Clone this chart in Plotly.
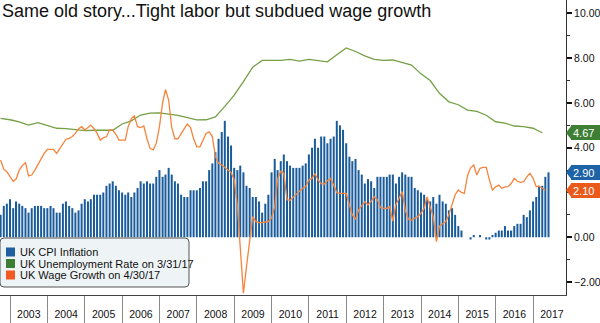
import pandas as pd
import plotly.graph_objects as go

# ---------------- data ----------------
cpi_start = "2002-09-30"          # monthly, month-end
cpi = [
    1.0, 1.4, 1.5, 1.7,
    1.3, 1.6, 1.5, 1.4, 1.3, 1.1, 1.3, 1.4, 1.4, 1.4, 1.3, 1.3,
    1.4, 1.3, 1.1, 1.1, 1.5, 1.6, 1.4, 1.3, 1.1, 1.2, 1.5, 1.7,
    1.6, 1.7, 1.9, 1.9, 1.9, 2.0, 2.3, 2.4, 2.5, 2.3, 2.1, 2.0,
    1.9, 2.0, 1.8, 2.0, 2.2, 2.5, 2.4, 2.5, 2.4, 2.4, 2.7, 3.0,
    2.7, 2.8, 3.1, 2.8, 2.5, 2.4, 1.9, 1.8, 1.8, 2.1, 2.1, 2.1,
    2.2, 2.5, 2.5, 3.0, 3.3, 3.8, 4.4, 4.7, 5.2, 4.5, 4.1, 3.1,
    3.0, 3.2, 2.9, 2.3, 2.2, 1.8, 1.8, 1.6, 1.1, 1.5, 1.9, 2.9,
    3.5, 3.0, 3.4, 3.7, 3.4, 3.2, 3.1, 3.1, 3.1, 3.2, 3.3, 3.7,
    4.0, 4.4, 4.0, 4.5, 4.5, 4.2, 4.4, 4.5, 5.2, 5.0, 4.8, 4.2,
    3.6, 3.4, 3.5, 3.0, 2.8, 2.4, 2.6, 2.5, 2.2, 2.7, 2.7, 2.7,
    2.7, 2.8, 2.8, 2.4, 2.7, 2.9, 2.8, 2.7, 2.7, 2.2, 2.1, 2.0,
    1.9, 1.7, 1.6, 1.8, 1.5, 1.9, 1.6, 1.5, 1.2, 1.3, 1.0, 0.5,
    0.3, 0.0, 0.0, -0.1, 0.1, 0.0, 0.1, 0.0, -0.1, -0.1, 0.1, 0.2,
    0.3, 0.3, 0.5, 0.3, 0.3, 0.5, 0.6, 0.6, 1.0, 0.9, 1.2, 1.6,
    1.8, 2.3, 2.3, 2.7, 2.9,
]

unemp_start = "2002-09-30"        # quarterly, quarter-end
unemployment = [
    5.31, 5.25,
    5.15, 5.01, 5.12, 5.00,
    4.87, 4.85, 4.80, 4.76,
    4.78, 4.78, 4.78, 5.06,
    5.20, 5.46, 5.55, 5.56,
    5.52, 5.45, 5.35, 5.24,
    5.25, 5.38, 5.85, 6.35,
    6.95, 7.60, 7.90, 7.90,
    7.90, 7.95, 7.87, 7.95,
    7.90, 7.84, 8.15, 8.46,
    8.30, 8.10, 7.95, 7.90,
    7.92, 7.82, 7.69, 7.30,
    7.00, 6.43, 6.05, 5.92,
    5.68, 5.62, 5.45, 5.16,
    5.10, 4.97, 4.94, 4.87,
    4.67,
]

wage_start = "2002-09-30"         # monthly, month-end
wage = [
    3.45, 3.04, 2.93, 2.70,
    2.50, 2.60, 3.00, 3.20, 3.33, 2.74, 2.78, 3.00, 3.25, 3.55, 3.75, 3.93,
    3.93, 3.93, 3.75, 3.95, 4.20, 4.38, 4.42, 4.50, 4.64, 4.85, 4.94, 4.79,
    4.90, 5.01, 4.85, 4.65, 4.34, 4.45, 4.49, 4.80, 4.79, 4.60, 4.34, 4.34,
    4.34, 4.94, 5.30, 5.42, 4.94, 4.90, 4.97, 4.40, 3.97, 3.90, 4.20, 4.94,
    6.00, 6.60, 6.13, 4.90, 4.40, 4.40, 4.60, 4.85, 5.06, 4.90, 4.40, 4.04,
    4.04, 4.30, 4.64, 4.71, 4.50, 3.60, 3.30, 3.23, 3.10, 3.00, 2.90, 2.56,
    1.40, -0.30, -2.50, -1.31, -0.12, 0.92, 0.70, 0.65, 0.66, 0.68, 0.70, 0.85,
    1.37, 2.60, 2.95, 2.86, 1.68, 1.65, 1.80, 1.95, 2.06, 2.19, 2.26, 2.56,
    2.63, 2.84, 2.56, 2.40, 2.38, 2.53, 2.63, 2.33, 1.99, 1.96, 1.96, 1.96,
    1.44, 1.00, 0.80, 1.22, 1.40, 1.59, 1.44, 1.60, 1.81, 1.67, 1.33, 1.29,
    1.29, 1.37, 0.72, 1.47, 1.74, 2.04, 1.20, 0.80, 0.77, 0.85, 0.92, 1.07,
    1.30, 1.80, 1.30, 0.92, -0.20, 0.50, 0.60, 0.70, 1.00, 1.50, 1.90, 2.11,
    2.00, 1.96, 2.75, 3.10, 3.23, 2.78, 3.08, 3.12, 3.12, 2.56, 2.11, 2.25,
    2.33, 2.19, 2.25, 2.26, 2.40, 2.63, 2.50, 2.45, 2.48, 2.70, 2.86, 2.63,
    2.26, 2.28, 2.20, 2.10,
]

series_names = ["UK CPI Inflation", "UK Unemployment Rate on 3/31/17", "UK Wage Growth on 4/30/17"]
title_text = "Same old story...Tight labor but subdued wage growth"
y_tick_values = [-2, 0, 4, 6, 8, 10]
x_range = ["2002-09-24", "2017-11-18"]
y_range = [-2.58, 10.6]

# ---------------- styling ----------------
FONT = "Tahoma, 'Liberation Sans', Arial, sans-serif"
BAR_BLUE = "#1a5c9b"
LINE_GREEN = "#74a046"
LINE_ORANGE = "#f7843c"
TAG_BLUE = "#1d63a6"
TAG_GREEN = "#3f7f35"
TAG_ORANGE = "#e95a1c"
SW_COLORS = ["#1f5fa0", "#3e7e34", "#f05a22"]

W, H = 600, 323
M = dict(l=0, r=34, t=0, b=28)
plot_h = H - M["t"] - M["b"]
plot_w = W - M["l"] - M["r"]

cpi_dates = pd.date_range(cpi_start, periods=len(cpi), freq="ME")
unemp_dates = pd.date_range(unemp_start, periods=len(unemployment), freq="QE")
wage_dates = pd.date_range(wage_start, periods=len(wage), freq="ME")

fig = go.Figure()
fig.add_trace(go.Bar(x=cpi_dates, y=cpi, marker=dict(color=BAR_BLUE, line=dict(width=0)),
                     name=series_names[0]))
fig.add_trace(go.Scatter(x=unemp_dates, y=unemployment, mode="lines",
                         line=dict(color=LINE_GREEN, width=1.3), name=series_names[1]))
fig.add_trace(go.Scatter(x=wage_dates, y=wage, mode="lines",
                         line=dict(color=LINE_ORANGE, width=1.3), name=series_names[2]))


def px_x(p):   # pixel -> paper x
    return (p - M["l"]) / plot_w


def px_y(p):   # pixel (from top) -> paper y
    return (H - M["b"] - p) / plot_h


# ---- compact legend box (Bloomberg style) ----
lx0, lx1, ly0, ly1, rad = 0, 189, 238, 287, 4
rx, ry = rad / plot_w, rad / plot_h
X0, X1, Y0, Y1 = px_x(lx0), px_x(lx1), px_y(ly1), px_y(ly0)
fig.add_shape(type="path", xref="paper", yref="paper", layer="above",
              path=(f"M {X0+rx},{Y1} L {X1-rx},{Y1} Q {X1},{Y1} {X1},{Y1-ry} "
                    f"L {X1},{Y0+ry} Q {X1},{Y0} {X1-rx},{Y0} L {X0+rx},{Y0} "
                    f"Q {X0},{Y0} {X0},{Y0+ry} L {X0},{Y1-ry} Q {X0},{Y1} {X0+rx},{Y1} Z"),
              fillcolor="#eef4f6", line=dict(color="#555", width=1))
row_y = [252, 263.5, 275]
for nm, col, ry_px in zip(series_names, SW_COLORS, row_y):
    fig.add_shape(type="rect", xref="paper", yref="paper", layer="above",
                  x0=px_x(6), x1=px_x(15), y0=px_y(ry_px + 4.5), y1=px_y(ry_px - 4.5),
                  fillcolor=col, line=dict(width=0))
    fig.add_annotation(xref="paper", yref="paper", x=px_x(18), y=px_y(ry_px),
                       xanchor="left", yanchor="middle", text=nm, showarrow=False,
                       font=dict(family=FONT, size=11, color="#111"))

# ---- value tags at right axis ----
px_per_unit = plot_h / (y_range[1] - y_range[0])
half_h = 6.5 / px_per_unit
tip = 5 / plot_w
for val, col in [(unemployment[-1], TAG_GREEN), (cpi[-1], TAG_BLUE), (wage[-1], TAG_ORANGE)]:
    fig.add_shape(type="path", xref="paper", yref="y",
                  path=f"M 1,{val} L {1+tip},{val+half_h} L {1+tip},{val-half_h} Z",
                  fillcolor=col, line=dict(width=0))
    fig.add_annotation(xref="paper", yref="y", x=1, y=val, xanchor="left", xshift=5,
                       text=f"{val:.2f}", showarrow=False, bgcolor=col, bordercolor=col,
                       borderpad=1, width=30, height=11, align="left",
                       font=dict(family=FONT, size=11, color="white"))

fig.update_layout(
    width=W, height=H, margin=M,
    paper_bgcolor="white", plot_bgcolor="white",
    bargap=0.3,
    font=dict(family=FONT, size=11, color="#111"),
    title=dict(text=title_text, x=2 / W, xref="container", xanchor="left",
               y=1 - 4 / H, yref="container", yanchor="top",
               font=dict(family=FONT, size=18, color="#111")),
    showlegend=False,
)
fig.update_xaxes(type="date", range=x_range, showgrid=False, zeroline=False,
                 showline=True, linecolor="#444", linewidth=1,
                 ticks="outside", ticklen=28, tickcolor="#8a8a8a", tickwidth=1,
                 dtick="M12", tick0="2003-01-01", tickformat="%Y",
                 ticklabelmode="period", ticklabelstandoff=-19,
                 tickfont=dict(family=FONT, size=10.5, color="#111"))
fig.update_yaxes(side="right", range=y_range, showgrid=False, zeroline=False,
                 showline=True, linecolor="#333", linewidth=1,
                 tickmode="array", tickvals=y_tick_values, tickformat=".2f",
                 ticks="outside", ticklen=5, tickwidth=2,
                 tickcolor="#111", tickfont=dict(family=FONT, size=10.5, color="#111"),
                 minor=dict(dtick=1, tick0=0, ticks="outside", ticklen=3, tickcolor="#333", tickwidth=1))

fig.write_html("out.html")
